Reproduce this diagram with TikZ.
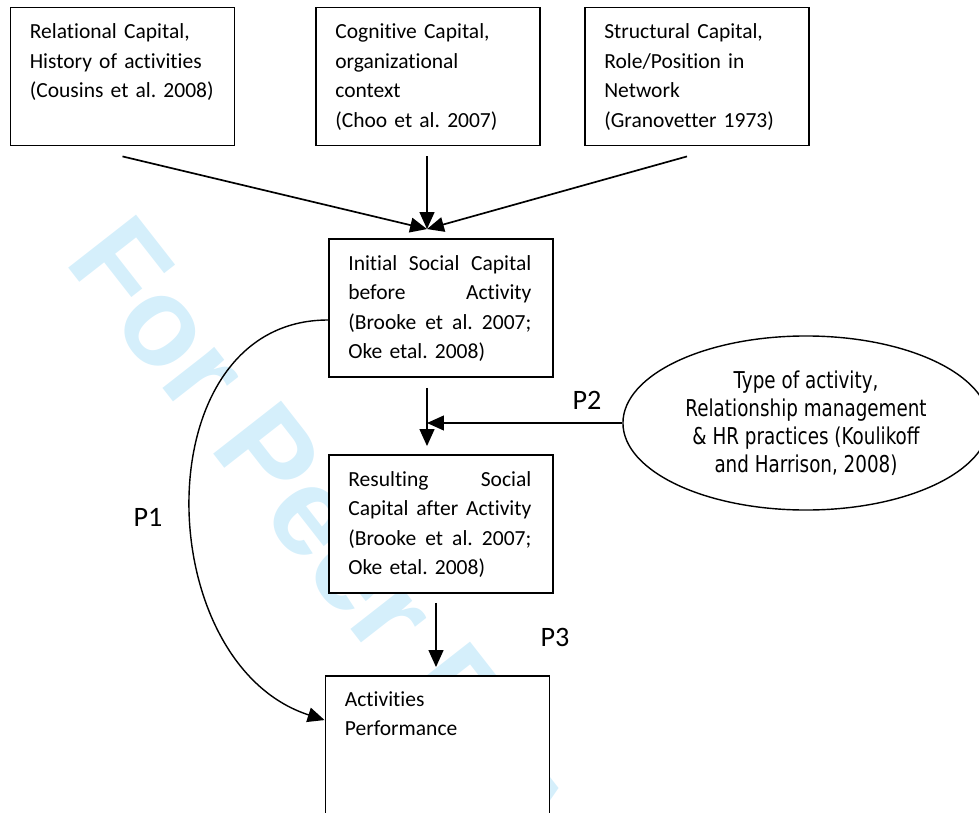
\documentclass[tikz,border=0pt]{standalone}
\usepackage{fontspec}
\setmainfont{Carlito}[Ligatures=NoCommon, WordSpace=0.8]
\newfontfamily\ellfont[FakeStretch=0.79]{DejaVu Sans}
\newfontfamily\markfont{Liberation Sans}
\usetikzlibrary{shapes.geometric,arrows.meta,positioning,calc}
\definecolor{markcyan}{RGB}{213,239,251}
\frenchspacing

\begin{document}
\begin{tikzpicture}[x=0.025cm,y=-0.025cm,
    box/.style={draw, fill=white, line width=1.3pt, minimum width=5.6cm, minimum height=3.45cm, inner sep=0pt},
    boxtext/.style={anchor=north west, inner sep=0pt, align=left, text width=4.575cm,
      font=\fontsize{15.3}{21}\selectfont, execute at begin node=\strut},
    plabel/.style={font=\fontsize{20}{24}\selectfont, inner sep=0pt},
    link/.style={line width=1.2pt, -{Triangle[length=12pt,width=10.5pt]}}]
    \clip (0,0) rectangle (979,813);

    % Watermark
    \node[anchor=base west, rotate=-52, inner sep=0pt, text=markcyan,
      font=\markfont\bfseries\fontsize{89}{89}\selectfont] (mark) at (63,261) {For Peer Review};

    % Sources of capital
    \node[box] (relational) at (122.5,76.5) {};
    \node[boxtext, text width=5cm] (relationaltext) at ([shift={(20,11)}]relational.north west)
      {Relational Capital,\\History of activities\\(Cousins et al. 2008)};
    \node[box] (cognitive) at (428,76.5) {};
    \node[boxtext, text width=5cm] (cognitivetext) at ([shift={(20,11)}]cognitive.north west)
      {Cognitive Capital,\\organizational\\context\\(Choo et al. 2007)};
    \node[box] (structural) at (697,76.5) {};
    \node[boxtext, text width=5cm] (structuraltext) at ([shift={(20,11)}]structural.north west)
      {Structural Capital,\\Role/Position in\\Network\\(Granovetter 1973)};

    % Social capital before and after
    \node[box] (initial) at (441,308) {};
    \node[boxtext] (initialtext) at ([shift={(20,11)}]initial.north west)
      {Initial\hfill Social\hfill Capital\\before\hfill Activity\\(Brooke\hfill et\hfill al.\hfill 2007;\\Oke etal. 2008)};
    \node[box] (resulting) at (441,524) {};
    \node[boxtext] (resultingtext) at ([shift={(20,11)}]resulting.north west)
      {Resulting\hfill Social\\Capital\hfill after\hfill Activity\\(Brooke\hfill et\hfill al.\hfill 2007;\\Oke etal. 2008)};

    % Performance
    \node[box, minimum height=4.5cm] (perf) at (437.5,766) {};
    \node[boxtext] (perftext) at ([shift={(20,10)}]perf.north west) {Activities\\Performance};

    % Moderator
    \node[draw, ellipse, line width=1pt, minimum width=9.15cm, minimum height=4.35cm, inner sep=0pt,
      align=center, font=\ellfont\fontsize{16.5}{19.9}\selectfont] (practices) at (806,423)
      {Type of activity,\\Relationship management\\\& HR practices (Koulikoff\\and Harrison, 2008)};

    % Propositions
    \node[plabel] (p1) at (148,517) {P1};
    \node[plabel] (p2) at (587,400) {P2};
    \node[plabel] (p3) at (555,637) {P3};

    % Arrows
    \coordinate (meet) at ([shift={(-14,-9)}]initial.north);
    \draw[link] ([shift={(0,10)}]relational.south) -- (meet);
    \draw[link] ([shift={(-1,10)}]cognitive.south) -- (meet);
    \draw[link] ([shift={(-10,10)}]structural.south) -- (meet);
    \draw[link] ([shift={(-14,10)}]initial.south) -- ([shift={(-14,-8)}]resulting.north);
    \draw[link] (practices.west) -- (practices.west -| meet);
    \draw[link] ([shift={(-5,9)}]resulting.south) -- ([shift={(-1.5,-8)}]perf.north);
    \draw[line width=1pt, -{Triangle[length=12pt,width=10.5pt]}] ([shift={(0,12)}]initial.west)
      .. controls +(-185,0) and +(-176,-57) .. ([shift={(0,45)}]perf.north west);
\end{tikzpicture}
\end{document}
